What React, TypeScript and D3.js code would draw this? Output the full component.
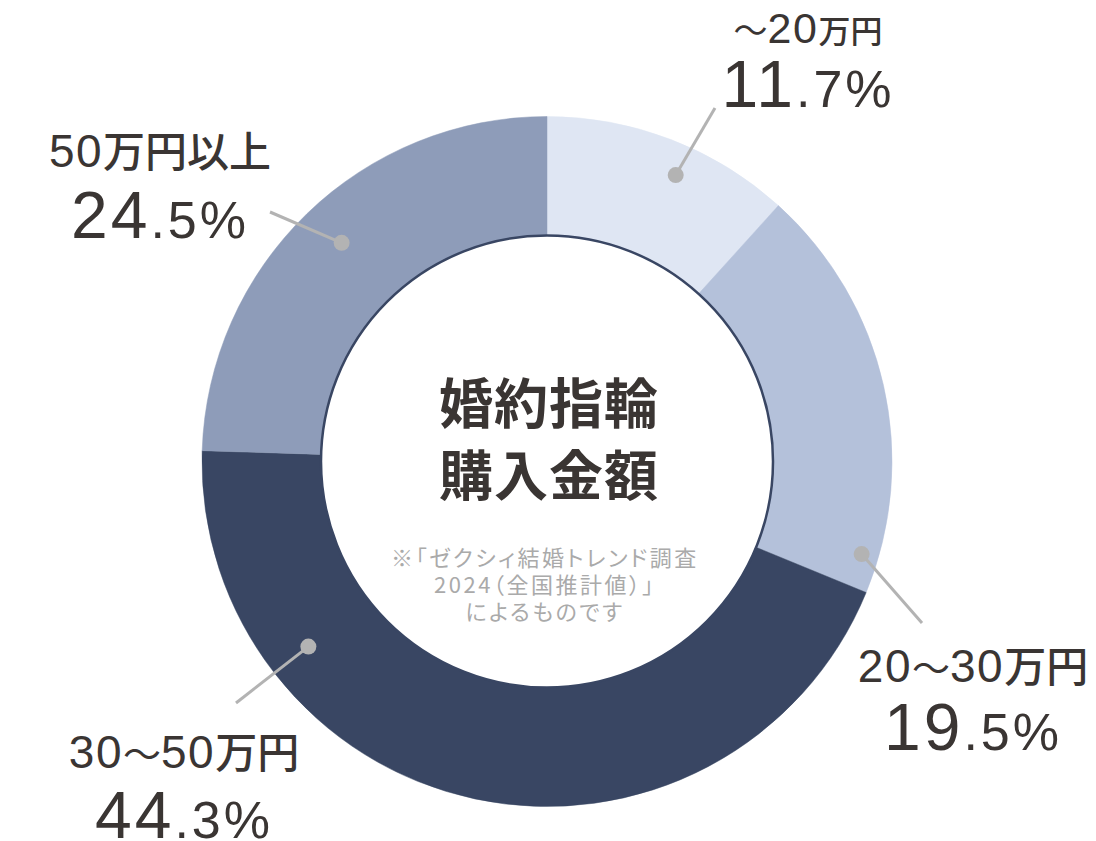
import * as d3 from "d3";

// purchase amount share (%), clockwise from 12 o'clock
const categories = ["～20万円", "20～30万円", "30～50万円", "50万円以上"];
const shares = [11.7, 19.5, 44.3, 24.5];
const titleLines = ["婚約指輪", "購入金額"];
const noteLines = ["※「ゼクシィ結婚トレンド調査", "2024（全国推計値）」", "によるものです"];

const colors = ["#dfe6f3", "#b4c1da", "#394663", "#8e9cb9"];

const width = 1096;
const height = 841;
const cx = 547;
const cy = 461.5;
const outerR = 345;
const innerR = 226;

const textColor = "#3a3533";
const leaderColor = "#b3b3b3";

// label layout per slice: dot (angle deg, radius), leader end, text centre/baselines
type Layout = {
    dotAngle: number;
    dotR: number;
    end: [number, number];
    x: number;
    nameY: number;
    pctY: number;
    digit: number;
    kanji: number;
    tilde: number;
};
const layouts: Layout[] = [
    { dotAngle: 24.2, dotR: 314, end: [715, 108], x: 808, nameY: 43, pctY: 107, digit: 43, kanji: 32, tilde: 34 },
    { dotAngle: 106.4, dotR: 328, end: [922, 623], x: 973, nameY: 682, pctY: 750, digit: 46, kanji: 42, tilde: 38 },
    { dotAngle: 232.2, dotR: 302, end: [236, 703], x: 184, nameY: 768, pctY: 838, digit: 46, kanji: 42, tilde: 38 },
    { dotAngle: 316.8, dotR: 300, end: [270, 212], x: 160, nameY: 167, pctY: 238, digit: 46, kanji: 42, tilde: 38 },
];

const numFont = "'Liberation Sans', Arial, 'Noto Sans CJK JP', sans-serif";
const jpFont = "'Noto Sans CJK JP', sans-serif";

// split a label into runs: digits, tilde, other japanese characters
const splitRuns = (s: string) => s.match(/[0-9.%]+|～|[^0-9.%～]+/g) ?? [];

export default function App() {
    const pie = d3
        .pie<number>()
        .sort(null)
        .value((d) => d)
        .startAngle(0)
        .endAngle(2 * Math.PI);
    const arcs = pie(shares);
    const arc = d3.arc<d3.PieArcDatum<number>>().innerRadius(innerR).outerRadius(outerR);

    return (
        <svg
            width={width}
            height={height}
            viewBox={`0 0 ${width} ${height}`}
            style={{ position: "absolute", left: 0, top: 0, background: "#fff" }}
        >
            <g transform={`translate(${cx},${cy})`}>
                {arcs.map((a, i) => (
                    <path key={i} d={arc(a) ?? ""} fill={colors[i]} stroke={colors[i]} strokeWidth={0.5} />
                ))}
                <circle r={innerR} fill="#fff" stroke="#394663" strokeWidth={2.5} />
            </g>

            {layouts.map((l, i) => {
                const [dx, dy] = d3.pointRadial((l.dotAngle * Math.PI) / 180, l.dotR);
                return (
                    <g key={i}>
                        <line
                            x1={cx + dx}
                            y1={cy + dy}
                            x2={l.end[0]}
                            y2={l.end[1]}
                            stroke={leaderColor}
                            strokeWidth={3}
                        />
                        <circle cx={cx + dx} cy={cy + dy} r={8} fill={leaderColor} />
                    </g>
                );
            })}

            {categories.map((name, i) => {
                const l = layouts[i];
                const [intPart, decPart] = shares[i].toFixed(1).split(".");
                return (
                    <g key={name} fill={textColor}>
                        <text x={l.x} y={l.nameY} textAnchor="middle">
                            {splitRuns(name).map((run, j) =>
                                /[0-9]/.test(run) ? (
                                    <tspan key={j} fontFamily={numFont} fontSize={l.digit} letterSpacing={1.5}>
                                        {run}
                                    </tspan>
                                ) : run === "～" ? (
                                    <tspan key={j} fontFamily={jpFont} fontSize={l.tilde}>
                                        {run}
                                    </tspan>
                                ) : (
                                    <tspan key={j} fontFamily={jpFont} fontSize={l.kanji} fontWeight={500}>
                                        {run}
                                    </tspan>
                                )
                            )}
                        </text>
                        <text x={l.x} y={l.pctY} textAnchor="middle" fontFamily={numFont} letterSpacing={3}>
                            <tspan fontSize={66}>{intPart}</tspan>
                            <tspan fontSize={52}>{`.${decPart}%`}</tspan>
                        </text>
                    </g>
                );
            })}

            <g textAnchor="middle" fill={textColor} fontFamily={jpFont} fontWeight={700} fontSize={54}>
                {titleLines.map((t, i) => (
                    <text key={t} x={549} y={400 + i * 72} dominantBaseline="central" letterSpacing={1}>
                        {t}
                    </text>
                ))}
            </g>
            <g
                textAnchor="middle"
                fill="#aaaaaa"
                fontFamily={jpFont}
                fontSize={22}
                style={{ fontFeatureSettings: '"palt"' }}
            >
                {noteLines.map((t, i) => (
                    <text key={t} x={545} y={556 + i * 27} dominantBaseline="central" letterSpacing={2.5}>
                        {t}
                    </text>
                ))}
            </g>
        </svg>
    );
}
